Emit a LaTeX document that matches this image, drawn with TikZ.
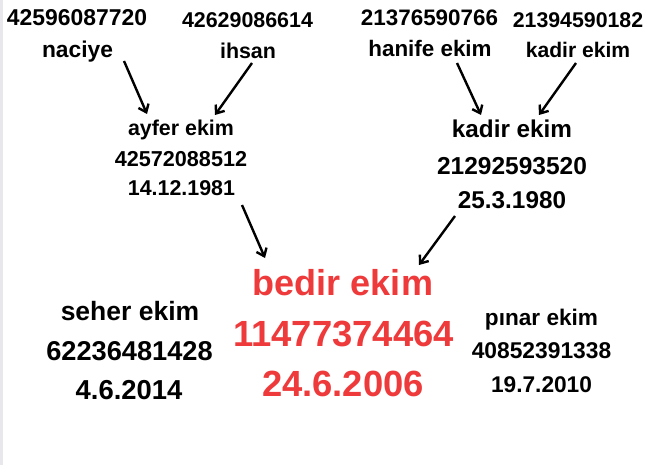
\documentclass[tikz,border=0pt]{standalone}
\usepackage{fontspec}
\setmainfont{Liberation Sans}
\usetikzlibrary{arrows.meta}
\definecolor{redtxt}{RGB}{238,58,58}
\definecolor{edgegray}{RGB}{232,232,236}
\begin{document}
\begin{tikzpicture}[x=1pt,y=-1pt,
  lbl/.style={inner sep=0pt,anchor=base,font=\bfseries},
  arr/.style={line width=2.4pt,-{Straight Barb[length=7pt,width=11pt]}}]
\useasboundingbox (0,0) rectangle (655,465);
\fill[white] (0,0) rectangle (655,465);
\fill[edgegray] (0,0) rectangle (3,465);
% grandparents, mother side
\node[lbl,font=\fontsize{22.9}{24}\bfseries] (n1id) at (77,26) {42596087720};
\node[lbl,font=\fontsize{22.8}{24}\bfseries] (n1) at (77.5,58) {naciye};
\node[lbl,font=\fontsize{21.4}{24}\bfseries] (n2id) at (247.5,28) {42629086614};
\node[lbl,font=\fontsize{21.4}{24}\bfseries] (n2) at (248,59) {ihsan};
% grandparents, father side
\node[lbl,font=\fontsize{22.4}{24}\bfseries] (n3id) at (429.5,26) {21376590766};
\node[lbl,font=\fontsize{22.4}{24}\bfseries] (n3) at (430,57) {hanife ekim};
\node[lbl,font=\fontsize{21.3}{24}\bfseries] (n4id) at (578,28) {21394590182};
\node[lbl,font=\fontsize{21.1}{24}\bfseries] (n4) at (578,58) {kadir ekim};
% mother
\node[lbl,font=\fontsize{21.4}{24}\bfseries] (m) at (181,136) {ayfer ekim};
\node[lbl,font=\fontsize{21.6}{24}\bfseries] (mid) at (181,167) {42572088512};
\node[lbl,font=\fontsize{21.4}{24}\bfseries] (mdt) at (181.5,195) {14.12.1981};
% father
\node[lbl,font=\fontsize{24.3}{26}\bfseries] (f) at (512,138) {kadir ekim};
\node[lbl,font=\fontsize{24.5}{26}\bfseries] (fid) at (512,175) {21292593520};
\node[lbl,font=\fontsize{24.3}{26}\bfseries] (fdt) at (512,208) {25.3.1980};
% main person
\node[lbl,text=redtxt,font=\fontsize{36}{38}\bfseries] (b) at (343,295) {bedir ekim};
\node[lbl,text=redtxt,font=\fontsize{36.4}{38}\bfseries] (bid) at (343.5,346) {11477374464};
\node[lbl,text=redtxt,font=\fontsize{36.4}{38}\bfseries] (bdt) at (343,396) {24.6.2006};
% siblings
\node[lbl,font=\fontsize{26.5}{28}\bfseries] (s) at (130,320) {seher ekim};
\node[lbl,font=\fontsize{27.2}{28}\bfseries] (sid) at (129.5,360) {62236481428};
\node[lbl,font=\fontsize{27.4}{28}\bfseries] (sdt) at (129,399) {4.6.2014};
\node[lbl,font=\fontsize{22.6}{24}\bfseries] (p) at (541.5,325) {pınar ekim};
\node[lbl,font=\fontsize{22.8}{24}\bfseries] (pid) at (541.5,358) {40852391338};
\node[lbl,font=\fontsize{22.7}{24}\bfseries] (pdt) at (541.5,392) {19.7.2010};
% arrow end points
\coordinate (a1s) at (124,61);  \coordinate (a1e) at (147,114);
\coordinate (a2s) at (252,63);  \coordinate (a2e) at (215,115);
\coordinate (a3s) at (457,63);  \coordinate (a3e) at (481,115);
\coordinate (a4s) at (576,63);  \coordinate (a4e) at (539,115);
\coordinate (a5s) at (242,205); \coordinate (a5e) at (265,258);
\coordinate (a6s) at (455,216); \coordinate (a6e) at (419,265);
\draw[arr] (a1s) -- (a1e);
\draw[arr] (a2s) -- (a2e);
\draw[arr] (a3s) -- (a3e);
\draw[arr] (a4s) -- (a4e);
\draw[arr] (a5s) -- (a5e);
\draw[arr] (a6s) -- (a6e);
\end{tikzpicture}
\end{document}
